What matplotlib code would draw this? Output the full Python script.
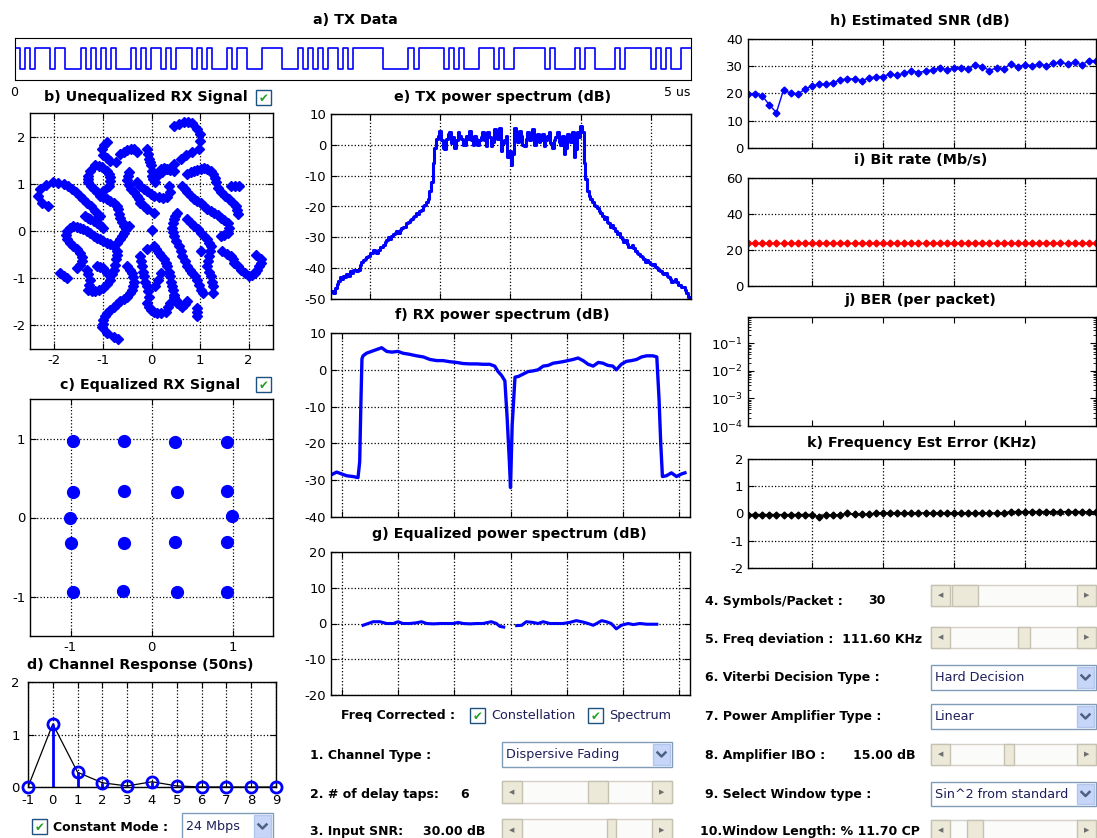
import numpy as np
import matplotlib
matplotlib.use("Agg")
import matplotlib.pyplot as plt
from matplotlib.patches import Rectangle
from matplotlib.lines import Line2D

plt.rcParams['font.family'] = ['DejaVu Sans']
plt.rcParams['axes.unicode_minus'] = False

# ---- data ----
tx_bits = ("1010111011000101010100010101101011101010001011000111100010101011010111111 00"
           "000101111101010001110100111111010000101100001011111010100 11").replace(" ", "")

uneq_pts = [
    (0.46, 2.23), (0.56, 2.27), (0.67, 2.3), (0.76, 2.3), (0.84, 2.28), (0.94, 2.17), (0.99, 2.06), (1.0, 1.9),
    (0.98, 1.74), (0.84, 1.67), (0.72, 1.6), (0.6, 1.53), (0.46, 1.42), (0.32, 1.32), (0.22, 1.25), (0.12, 1.17),
    (-2.02, 1.03), (-2.18, 0.97), (-2.3, 0.89), (-2.33, 0.75), (-2.26, 0.6), (-2.12, 0.53), (-1.92, 1.02),
    (-1.81, 1.0), (-1.72, 0.95), (-1.64, 0.89), (-1.55, 0.82), (-1.47, 0.75), (-1.4, 0.68), (-1.33, 0.6),
    (-1.24, 0.52), (-1.16, 0.43), (-1.06, 0.32),
    (-0.92, 1.89), (-0.98, 1.82), (-1.02, 1.74), (-0.99, 1.6), (-0.92, 1.54), (-0.85, 1.49), (-0.74, 1.46),
    (-0.64, 1.64), (-0.57, 1.68), (-0.5, 1.71), (-0.43, 1.73), (-0.37, 1.74), (-0.3, 1.67),
    (-1.26, 1.28), (-1.16, 1.39), (-1.09, 1.38), (-1.02, 1.35), (-0.92, 1.28), (-0.87, 1.21), (-0.85, 1.14),
    (-0.86, 1.05), (-0.88, 0.96), (-0.99, 0.85),
    (-1.3, 1.17), (-1.3, 1.1), (-1.3, 1.03), (-1.25, 0.96), (-1.19, 0.89), (-1.12, 0.82), (-1.06, 0.75),
    (-0.99, 0.71), (-0.92, 0.68), (-0.85, 0.64), (-0.78, 0.6), (-0.72, 0.53), (-0.68, 0.46), (-0.66, 0.37),
    (-0.64, 0.28), (-0.6, 0.2), (-0.57, 0.11),
    (-0.09, 1.74), (-0.08, 1.64), (-0.06, 1.53), (-0.04, 1.46), (-0.02, 1.39), (0.0, 1.28), (0.01, 1.17),
    (0.04, 1.1), (0.08, 1.03),
    (-0.47, 1.25), (-0.49, 1.16), (-0.5, 1.07), (-0.47, 0.98), (-0.43, 0.89), (-0.37, 0.82), (-0.3, 0.75),
    (-0.26, 0.68), (-0.23, 0.6), (-0.16, 0.53), (-0.09, 0.46), (0.05, 0.39),
    (-0.3, 1.03), (-0.23, 0.96), (-0.16, 0.89), (-0.09, 0.84), (-0.02, 0.78), (0.06, 0.74), (0.15, 0.71),
    (0.24, 0.7), (0.32, 0.71), (0.39, 0.82), (0.36, 0.96),
    (0.19, 1.32), (0.26, 1.33), (0.32, 1.32), (0.39, 1.3), (0.46, 1.28),
    (0.74, 1.21), (0.81, 1.25), (0.88, 1.28), (0.94, 1.3), (1.01, 1.32), (1.08, 1.33), (1.15, 1.32),
    (1.22, 1.28), (1.26, 1.21), (1.3, 1.12), (1.32, 1.03), (1.37, 0.92), (1.43, 0.82), (1.52, 0.75),
    (1.6, 0.68), (1.67, 0.6), (1.74, 0.53), (1.76, 0.45), (1.77, 0.36),
    (1.63, 0.96), (1.72, 0.96), (1.81, 0.96),
    (0.63, 0.96), (0.68, 0.89), (0.74, 0.82), (0.81, 0.75), (0.88, 0.68), (0.94, 0.64), (1.01, 0.6),
    (1.08, 0.53), (1.15, 0.46), (1.22, 0.42), (1.29, 0.39), (1.36, 0.33), (1.43, 0.28), (1.5, 0.23),
    (1.57, 0.18), (1.59, 0.07), (1.57, -0.04), (1.5, -0.08), (1.43, -0.11),
    (0.53, 0.39), (0.49, 0.32), (0.46, 0.25), (0.44, 0.16), (0.43, 0.07), (0.44, -0.02), (0.46, -0.11),
    (0.51, -0.21), (0.57, -0.32), (0.6, -0.43), (0.63, -0.53), (0.68, -0.64), (0.74, -0.75), (0.79, -0.82),
    (0.84, -0.89), (0.89, -0.96), (0.94, -1.03), (0.98, -1.14), (1.01, -1.25), (1.05, -1.32),
    (0.74, 0.25), (0.81, 0.18), (0.88, 0.11), (0.95, 0.04), (1.01, -0.04), (1.08, -0.11), (1.15, -0.18),
    (1.19, -0.25), (1.22, -0.32), (1.21, -0.43), (1.19, -0.53), (1.17, -0.64), (1.15, -0.75), (1.18, -0.86),
    (1.22, -0.96), (1.24, -1.07), (1.26, -1.17), (1.26, -1.32),
    (1.46, -0.43), (1.55, -0.48), (1.63, -0.53), (1.67, -0.6), (1.7, -0.68), (1.77, -0.75), (1.84, -0.82),
    (1.92, -0.89), (2.0, -0.96), (2.06, -0.94), (2.12, -0.89), (2.17, -0.82), (2.22, -0.75), (2.25, -0.67),
    (2.26, -0.6), (2.15, -0.5),
    (0.94, -1.64), (0.94, -1.72), (0.94, -1.81),
    (-0.78, -2.24), (-0.68, -2.28), (-0.92, -2.17), (-1.02, -2.03), (-1.0, -1.96), (-0.99, -1.89),
    (-0.96, -1.81), (-0.92, -1.74), (-0.85, -1.67), (-0.78, -1.6), (-0.71, -1.55), (-0.64, -1.49),
    (-0.57, -1.44), (-0.5, -1.39), (-0.45, -1.32), (-0.4, -1.25), (-0.38, -1.16), (-0.37, -1.07),
    (-0.38, -0.98), (-0.4, -0.89), (-0.45, -0.82), (-0.5, -0.75),
    (-0.09, -1.53), (-0.06, -1.6), (-0.02, -1.67), (0.05, -1.72), (0.12, -1.74), (0.2, -1.73), (0.29, -1.71),
    (0.34, -1.62), (0.39, -1.53), (0.46, -1.39), (0.5, -1.46), (0.53, -1.53), (0.58, -1.57), (0.63, -1.6),
    (0.69, -1.55), (0.74, -1.49),
    (-0.09, -0.39), (0.05, -0.32), (0.1, -0.39), (0.15, -0.46), (0.2, -0.53), (0.26, -0.6), (0.29, -0.67),
    (0.32, -0.75), (0.36, -0.86), (0.39, -0.96), (0.41, -1.07), (0.43, -1.17), (0.45, -1.26), (0.46, -1.35),
    (-0.23, -0.53), (-0.21, -0.64), (-0.19, -0.75), (-0.17, -0.86), (-0.16, -0.96), (-0.13, -1.07),
    (-0.09, -1.17), (-0.07, -1.28), (-0.06, -1.39),
    (0.19, -0.89), (0.14, -1.03), (0.08, -1.17),
    (-1.88, -0.89), (-1.81, -0.95), (-1.74, -1.0), (-1.54, -0.78), (-1.48, -0.71), (-1.43, -0.64),
    (-1.44, -0.55), (-1.47, -0.46), (-1.54, -0.39), (-1.61, -0.32), (-1.68, -0.25), (-1.74, -0.18),
    (-1.76, -0.09), (-1.74, 0.0), (-1.68, 0.06), (-1.61, 0.11), (-1.54, 0.09), (-1.47, 0.07), (-1.4, 0.04),
    (-1.33, 0.0), (-1.26, -0.05), (-1.19, -0.11), (-1.12, -0.15), (-1.06, -0.18), (-0.99, -0.21),
    (-0.92, -0.25), (-0.85, -0.28), (-0.78, -0.32), (-0.71, -0.25), (-0.64, -0.18), (-0.6, -0.11),
    (-0.57, -0.04), (-0.52, 0.04), (-0.47, 0.11),
    (-1.33, -0.82), (-1.3, -0.92), (-1.26, -1.03), (-1.28, -1.14), (-1.3, -1.25), (-1.23, -1.27),
    (-1.16, -1.28), (-1.08, -1.25), (-0.99, -1.21), (-0.92, -1.12), (-0.85, -1.03), (-0.81, -0.92),
    (-0.78, -0.82), (-0.76, -0.71), (-0.74, -0.6), (-0.72, -0.51), (-0.71, -0.43),
    (-1.12, -0.75), (-1.05, -0.76), (-0.99, -0.78), (-0.92, -0.89),
    (-1.37, 0.32), (-1.31, 0.28), (-1.26, 0.25), (-1.19, 0.21), (-1.12, 0.18), (-1.05, 0.12), (-0.99, 0.07),
    (0.0, 0.02), (1.01, -0.43),
]

eq_i = [-0.965, -0.34, 0.29, 0.93, -0.97, -0.34, 0.31, 0.93, -1.01, 0.99,
        -0.99, -0.34, 0.29, 0.93, -0.965, -0.35, 0.31, 0.93]
eq_q = [0.97, 0.97, 0.96, 0.96, 0.32, 0.33, 0.32, 0.33, -0.01, 0.02,
        -0.32, -0.32, -0.31, -0.31, -0.945, -0.93, -0.945, -0.94]

taps = [-1, 0, 1, 2, 3, 4, 5, 6, 7, 8, 9]
tap_gain = [0, 1.2, 0.28, 0.08, 0.02, 0.1, 0.02, 0, 0, 0, 0]

tx_psd = [-47.5, -48, -46.5, -45, -44, -43, -43.5, -42.5, -43, -42, -42.5, -41, -41.5, -40.5,
          -40.5, -41, -40.5, -39, -38, -37.5, -37, -36.5, -36, -35, -35, -34, -34.5, -35, -34, -33,
          -33, -32.5, -31.5, -31, -30, -30.5, -29.5, -29, -28.5, -28, -28.5, -27.5, -27, -26.5,
          -26.5, -25.5, -25, -24.5, -24, -23.5, -23, -22, -22.5, -21.5, -21, -20, -19.5, -18.5,
          -17.5, -15,
          -12, -6, -1, 2,
          3, 4.5, 1.5, -1, -1.5, 2, 3.5, 4, 0.5, 2.5, -1, 1.5, 4, 3, 2, 0, 0, 3, 2, 4.5, 1.5, 0,
          3, 2, 0, 1.5, 2.5, 4, 1.5, -0.5, 4, 2.5, -0.5, 1, 5, 3.5, 2, 5.5, -2, 0.5, 1.5, 3, -4,
          -2, -6.5, -3, 5.5, 3, 1, 4.5, 3, 0, -0.5, 2, 4, 1.5, 2.5, 5, 0, 2, 3.5, 1, 1.5, 3.5,
          -0.5, 1.5, 3, 4, 0.5, -1, 1.5, 2.5, 4, 1, 0, 3, -3, -1, 3.5, 1.5, 1, 4, -4, -1.5, 4,
          2.5, 6, 4,
          -6, -11, -15, -16.5,
          -17.5, -18.5, -19.5, -20, -20.5, -21.5, -22, -23, -24, -23.5, -25, -25.5, -26.5, -26,
          -27, -28, -29, -28.5, -30, -30.5, -31.5, -31, -32, -33, -33, -32.5, -33.5, -34.5, -35,
          -35.5, -36, -36.5, -37, -38, -37.5, -38, -38.5, -39, -38.5, -39.5, -40, -40.5, -41,
          -41.5, -42, -41.5, -42.5, -43, -43.5, -44.5, -44, -43.5, -44.5, -45.5, -45.5, -46, -46,
          -47, -48, -49.5]

rx_freq = [-3.18, -3.09, -3.00, -2.91, -2.80, -2.71, -2.68, -2.66, -2.64, -2.62, -2.56, -2.47, -2.38,
           -2.29, -2.20, -2.11, -2.00, -1.91, -1.79, -1.67, -1.55, -1.43, -1.31, -1.20, -1.08, -0.96,
           -0.84, -0.72, -0.60, -0.49, -0.37, -0.28, -0.22, -0.16, -0.10, -0.06, -0.02, 0.00, 0.03,
           0.08, 0.14, 0.22, 0.31, 0.40, 0.49, 0.58, 0.67, 0.76, 0.85, 0.93, 1.02, 1.11, 1.20, 1.29,
           1.38, 1.47, 1.56, 1.64, 1.73, 1.82, 1.88, 1.97, 2.06, 2.15, 2.24, 2.33, 2.42, 2.53, 2.60,
           2.64, 2.67, 2.70, 2.77, 2.86, 2.95, 3.04, 3.10]
rx_psd = [-28.5, -27.8, -28.3, -28.8, -29, -29.3, -25, -10, 3, 3.8, 4.5, 5, 5.5, 6, 5, 4.8, 5, 4.5,
          4.2, 3.8, 3.5, 2.8, 2.5, 2.5, 2.2, 2, 1.7, 1.6, 1.6, 1.5, 1.5, 1.0, -0.5, -1.5, -3, -13, -25,
          -32, -15, -2, -1.8, -1.2, -0.5, -0.3, 0, 1, 1.2, 1.8, 2, 2.2, 2.5, 2.8, 3.2, 2.5, 1.5, 1.0,
          2, 1.8, 1.2, 1.0, 0, 1.5, 2.3, 2.5, 2.8, 3.5, 3.8, 3.8, 3.5, -8, -20, -29, -28.8, -28, -29,
          -28.3, -28]

eq_freq = [-2.62, -2.53, -2.44, -2.32, -2.20, -2.08, -2.00, -1.91, -1.79, -1.67, -1.58, -1.49, -1.37,
           -1.25, -1.14, -1.02, -0.93, -0.84, -0.72, -0.60, -0.49, -0.34, -0.25, -0.19, -0.12, 0.0,
           0.11, 0.20, 0.28, 0.40, 0.49, 0.58, 0.70, 0.82, 0.93, 1.05, 1.17, 1.29, 1.38, 1.47, 1.53,
           1.62, 1.70, 1.79, 1.88, 1.97, 2.09, 2.18, 2.30, 2.42, 2.60]
eq_psd = [-0.5, 0, 0.5, 0.5, 0, 0, 0.5, 0, 0, 0.2, 0.5, 0, -0.1, 0, 0, 0, 0.3, 0, -0.1, 0, 0, 0.5, 0,
          -0.8, -1.0, np.nan, -0.6, -0.5, 0.5, 0.3, 0, 0.5, 0, 0, 0, 0.3, 0.8, 0.4, 0, -0.5, 0, 0.8,
          0.5, 0, -1.5, -0.5, 0, -0.3, 0, -0.2, -0.2]

packets = list(range(1, 51))
snr_est = [19.7, 19.7, 19.2, 15.8, 13.0, 21.3, 20.1, 19.8, 21.5, 22.8, 23.4, 23.4, 24.0, 25.0, 25.4,
           25.4, 24.7, 25.6, 26.2, 26.2, 27.2, 26.7, 27.4, 28.4, 27.7, 28.2, 28.7, 29.5, 28.7, 29.3,
           29.5, 29.0, 30.5, 29.9, 28.4, 29.5, 29.0, 30.9, 29.9, 30.5, 30.2, 30.8, 30.2, 31.1, 31.5,
           30.8, 31.5, 30.5, 32.1, 32.0]
bit_rate = [24] * 50
freq_err = [-0.04, -0.04, -0.04, -0.04, -0.04, -0.04, -0.04, -0.04, -0.04, -0.04, -0.12, -0.06,
            -0.05, -0.05, 0.01, -0.03, -0.03, -0.03, 0.02, 0.02, 0.02, 0.02, 0.02, 0.02, 0.02, 0.02,
            0.02, 0.02, 0.02, 0.02, 0.02, 0.02, 0.02, 0.02, 0.02, 0.02, 0.02, 0.07, 0.07, 0.07, 0.07,
            0.07, 0.07, 0.07, 0.07, 0.07, 0.07, 0.07, 0.06, 0.06]

# ---- figure ----
W, H = 1097, 838
fig = plt.figure(figsize=(W / 100, H / 100), dpi=100)
fig.patch.set_facecolor('white')


def add_ax(l, t, r, b):
    return fig.add_axes([l / W, 1 - b / H, (r - l) / W, (b - t) / H])


def style(ax, grid=True):
    for s in ax.spines.values():
        s.set_linewidth(1.0)
    ax.tick_params(direction='in', top=True, right=True, labelsize=9.5, length=4, width=0.8)
    if grid:
        ax.grid(True, linestyle=':', color='black', linewidth=0.9)


def ftext(x, y, s, **kw):
    kw.setdefault('va', 'center')
    return fig.text(x / W, 1 - y / H, s, **kw)


def title(x, y, s):
    ftext(x, y, s, ha='center', fontsize=10.3, fontweight='bold')


def box(x0, y0, x1, y1, **kw):
    fig.add_artist(Rectangle((x0 / W, 1 - y1 / H), (x1 - x0) / W, (y1 - y0) / H,
                             transform=fig.transFigure, **kw))


def checkbox(x0, y0, size=15):
    box(x0, y0, x0 + size, y0 + size, facecolor='white', edgecolor='#1c5180', linewidth=1)
    ftext(x0 + size / 2, y0 + size / 2 + 1, '\u2714', ha='center', color='#21a121', fontsize=8.5)


def slider(x0, y0, x1, y1, t0, t1):
    h = y1 - y0
    box(x0, y0, x1, y1, facecolor='#fbfbf9', edgecolor='#d4d0c8', linewidth=1)
    for bx, arrow in ((x0, '\u25c0'), (x1 - h + 2, '\u25b6')):
        box(bx, y0, bx + h - 2, y1, facecolor='#ece9d8', edgecolor='#c5c2b2', linewidth=1)
        ftext(bx + (h - 2) / 2, (y0 + y1) / 2, arrow, ha='center', color='#6e6e6e', fontsize=5)
    box(t0, y0, t1, y1, facecolor='#ece9d8', edgecolor='#c5c2b2', linewidth=1)


def dropdown(x0, y0, x1, y1, label):
    box(x0, y0, x1, y1, facecolor='white', edgecolor='#7f9db9', linewidth=1)
    box(x1 - 19, y0 + 2, x1 - 2, y1 - 2, facecolor='#c7d6f8', edgecolor='#b2c6ef', linewidth=1)
    cx, cy = x1 - 10.5, (y0 + y1) / 2
    fig.add_artist(Line2D([(cx - 4) / W, cx / W, (cx + 4) / W],
                          [1 - (cy - 2) / H, 1 - (cy + 2) / H, 1 - (cy - 2) / H],
                          transform=fig.transFigure, color='#4d6185', linewidth=1.8))
    ftext(x0 + 4, cy, label, color='#1e1e5a', fontsize=9.2)


blue = '#0000ff'

# a) TX data
ax = add_ax(15, 38, 691, 80)
bits = np.array([int(b) for b in tx_bits])
t = np.arange(len(bits) + 1) * 5.0 / len(bits)
ax.step(t, np.append(bits, bits[-1]), where='post', color=blue, linewidth=1.2)
ax.set_xlim(0, 5)
ax.set_ylim(-0.5, 1.5)
ax.set_xticks([])
ax.set_yticks([])
title(355, 20, 'a) TX Data')
ftext(14, 93, '0', ha='center', fontsize=9)
ftext(677, 93, '5 us', ha='center', fontsize=9)

# b) unequalized constellation
ax = add_ax(30, 113, 273, 349)
pts = np.array(uneq_pts)
ax.plot(pts[:, 0], pts[:, 1], 'D', color=blue, markersize=5, markeredgewidth=1)
ax.set_xlim(-2.5, 2.5)
ax.set_ylim(-2.5, 2.5)
ax.set_xticks([-2, -1, 0, 1, 2])
ax.set_yticks([-2, -1, 0, 1, 2])
style(ax)
title(146, 97, 'b) Unequalized RX Signal')
checkbox(256, 90)

# c) equalized constellation
ax = add_ax(30, 399, 273, 636)
ax.plot(eq_i, eq_q, 'o', color=blue, markersize=8.5)
ax.set_xlim(-1.5, 1.5)
ax.set_ylim(-1.5, 1.5)
ax.set_xticks([-1, 0, 1])
ax.set_yticks([-1, 0, 1])
style(ax)
title(150, 385, 'c) Equalized RX Signal')
checkbox(256, 377)

# d) channel response
ax = add_ax(28, 682, 276, 787)
ax.plot(taps, tap_gain, color='black', linewidth=0.9)
ax.vlines(taps, 0, tap_gain, color=blue, linewidth=2)
ax.plot(taps, tap_gain, 'o', markerfacecolor='none', markeredgecolor=blue, markersize=8,
        markeredgewidth=2, clip_on=False, zorder=5)
ax.set_xlim(-1, 9)
ax.set_ylim(0, 2)
ax.set_xticks(taps)
ax.set_yticks([0, 1, 2])
style(ax)
ax.tick_params(axis='x', pad=5)
ax.tick_params(axis='y', pad=6)
title(140, 665, 'd) Channel Response (50ns)')

# e) TX spectrum
ax = add_ax(331, 114, 691, 299)
ax.step(np.linspace(-2.53, 2.54, len(tx_psd)), tx_psd, where='mid', color=blue, linewidth=2.2)
ax.set_xlim(-2.55, 2.57)
ax.set_ylim(-50, 10)
ax.set_xticks([-2, -1, 0, 1, 2])
ax.set_xticklabels([])
ax.set_yticks(range(-50, 11, 10))
style(ax)
title(503, 97, 'e) TX power spectrum (dB)')

# f) RX spectrum
ax = add_ax(331, 333, 690, 517)
ax.plot(rx_freq, rx_psd, color=blue, linewidth=2.4)
ax.set_xlim(-3.19, 3.19)
ax.set_ylim(-40, 10)
ax.set_xticks([-3, -2, -1, 0, 1, 2, 3])
ax.set_xticklabels([])
ax.set_yticks(range(-40, 11, 10))
style(ax)
title(502, 315, 'f) RX power spectrum (dB)')

# g) equalized spectrum
ax = add_ax(331, 552, 690, 695)
ax.plot(eq_freq, eq_psd, color=blue, linewidth=2.2)
ax.set_xlim(-3.19, 3.19)
ax.set_ylim(-20, 20)
ax.set_xticks([-3, -2, -1, 0, 1, 2, 3])
ax.set_xticklabels([])
ax.set_yticks(range(-20, 21, 10))
style(ax)
title(509, 534, 'g) Equalized power spectrum (dB)')

# h) estimated SNR
ax = add_ax(748, 39, 1096, 148)
ax.plot(packets, snr_est, '-D', color=blue, linewidth=1, markersize=3.5)
ax.set_ylim(0, 40)
ax.set_yticks(range(0, 41, 10))
title(920, 21, 'h) Estimated SNR (dB)')

# i) bit rate
ax2 = add_ax(748, 178, 1096, 286)
ax2.plot(packets, bit_rate, '-D', color='#ff0000', linewidth=1, markersize=3.5)
ax2.set_ylim(0, 60)
ax2.set_yticks([0, 20, 40, 60])
title(921, 160, 'i) Bit rate (Mb/s)')

# j) BER
ax3 = add_ax(748, 317, 1096, 426)
ax3.set_yscale('log')
ax3.set_ylim(1e-4, 0.9)
ax3.set_yticks([1e-4, 1e-3, 1e-2, 1e-1])
title(920, 300, 'j) BER (per packet)')

# k) frequency error
ax4 = add_ax(748, 459, 1096, 568)
ax4.plot(packets, freq_err, '-D', color='black', linewidth=1, markersize=3.5)
ax4.set_ylim(-2, 2)
ax4.set_yticks([-2, -1, 0, 1, 2])
title(922, 443, 'k) Frequency Est Error (KHz)')

for a in (ax, ax2, ax3, ax4):
    a.set_xlim(1, 50)
    a.set_xticks([10, 20, 30, 40])
    a.set_xticklabels([])
    style(a, grid=(a is not ax3))
ax3.tick_params(which='minor', direction='in', left=True, right=True, length=2)

# ---- GUI controls ----
lab = dict(fontsize=9, fontweight='bold')
ftext(341, 715, 'Freq Corrected :', **lab)
checkbox(470, 708)
ftext(491, 715, 'Constellation', fontsize=9.2, color='#1e1e5a')
checkbox(588, 708)
ftext(609, 715, 'Spectrum', fontsize=9.2, color='#1e1e5a')

ftext(310, 755, '1. Channel Type :', **lab)
dropdown(502, 742, 672, 767, 'Dispersive Fading')
ftext(310, 794, '2. # of delay taps:', **lab)
ftext(460, 794, '6', **lab)
slider(502, 781, 672, 803, 588, 608)
ftext(310, 831, '3. Input SNR:', **lab)
ftext(423, 831, '30.00 dB', **lab)
slider(502, 819, 672, 841, 607, 616)

checkbox(32, 819)
ftext(53, 827, 'Constant Mode :', **lab)
dropdown(182, 813, 273, 840, '24 Mbps')

ftext(705, 601, '4. Symbols/Packet :', **lab)
ftext(868, 601, '30', **lab)
slider(931, 585, 1096, 606, 952, 978)
ftext(705, 639, '5. Freq deviation :  111.60 KHz', **lab)
slider(931, 627, 1096, 648, 1018, 1030)
ftext(705, 677, '6. Viterbi Decision Type :', **lab)
dropdown(931, 665, 1096, 690, 'Hard Decision')
ftext(705, 716, '7. Power Amplifier Type :', **lab)
dropdown(931, 704, 1096, 729, 'Linear')
ftext(705, 755, '8. Amplifier IBO :', **lab)
ftext(853, 755, '15.00 dB', **lab)
slider(931, 744, 1096, 765, 1004, 1014)
ftext(705, 794, '9. Select Window type :', **lab)
dropdown(931, 782, 1096, 806, 'Sin^2 from standard')
ftext(700, 831, '10.Window Length: % 11.70 CP', **lab)
slider(931, 820, 1096, 841, 967, 983)

fig.savefig('out.png', dpi=100)
